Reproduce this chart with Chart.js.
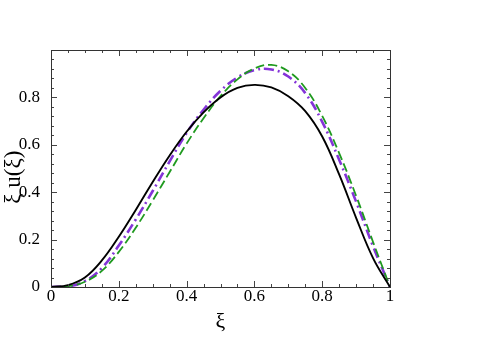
<!DOCTYPE html>
<html>
<head>
<meta charset="utf-8">
<script src="https://cdn.jsdelivr.net/npm/chart.js@4"></script>
<style>
  html, body { margin: 0; padding: 0; background: #fff; }
  #plot { display: block; }
</style>
</head>
<body>
<canvas id="plot" width="480" height="339"></canvas>
<script>
// values
const xi = [0, 0.05, 0.1, 0.15, 0.2, 0.25, 0.3, 0.35, 0.4, 0.45, 0.5, 0.55, 0.6, 0.65, 0.7, 0.75, 0.8, 0.85, 0.9, 0.95, 1];
const solidY   = [0, 0.008, 0.040, 0.112, 0.212, 0.325, 0.443, 0.555, 0.655, 0.737, 0.800, 0.840, 0.853, 0.842, 0.805, 0.742, 0.635, 0.475, 0.292, 0.122, 0];
const dashedY  = [0, 0.003, 0.022, 0.068, 0.148, 0.250, 0.365, 0.485, 0.605, 0.712, 0.805, 0.876, 0.922, 0.937, 0.910, 0.840, 0.722, 0.565, 0.385, 0.190, 0];
const dotdashY = [0, 0.002, 0.025, 0.080, 0.175, 0.285, 0.405, 0.530, 0.650, 0.748, 0.828, 0.884, 0.915, 0.918, 0.888, 0.818, 0.697, 0.537, 0.360, 0.172, 0];
const xTicks = [0, 0.2, 0.4, 0.6, 0.8, 1];
const yTicks = [0, 0.2, 0.4, 0.6, 0.8];

const pts = ys => xi.map((x, i) => ({ x: x, y: ys[i] }));
const serif = '"Liberation Serif", "DejaVu Serif", serif';

function fmt(v) {
    const r = Math.round(v * 10) / 10;
    return r === 0 ? '0' : r === 1 ? '1' : r.toFixed(1);
}

// inward ticks on all four sides + frame
const frameTicks = {
    id: 'frameTicks',
    afterDraw(chart) {
        const { ctx, chartArea: a, scales } = chart;
        const sx = scales.x, sy = scales.y;
        ctx.save();
        ctx.strokeStyle = '#444';
        ctx.lineWidth = 1;
        ctx.beginPath();
        for (let i = 0; i <= 20; i++) {
            const px = Math.round(sx.getPixelForValue(i * 0.05)) + 0.5;
            const len = i % 4 === 0 ? 6 : 3;
            ctx.moveTo(px, a.bottom); ctx.lineTo(px, a.bottom - len);
            ctx.moveTo(px, a.top); ctx.lineTo(px, a.top + len);
        }
        for (let i = 0; i <= 25; i++) {
            const py = Math.round(sy.getPixelForValue(i * 0.04)) + 0.5;
            const len = i % 5 === 0 ? 6 : 3;
            ctx.moveTo(a.left, py); ctx.lineTo(a.left + len, py);
            ctx.moveTo(a.right, py); ctx.lineTo(a.right - len, py);
        }
        ctx.stroke();
        ctx.strokeStyle = '#333';
        ctx.strokeRect(Math.round(a.left) + 0.5, Math.round(a.top) + 0.5,
                       Math.round(a.right - a.left), Math.round(a.bottom - a.top));
        ctx.restore();
    }
};

new Chart(document.getElementById('plot'), {
    type: 'line',
    data: {
        datasets: [
            { data: pts(solidY), borderColor: '#000', borderWidth: 1.9 },
            { data: pts(dashedY), borderColor: '#1f9a1f', borderWidth: 1.8, borderDash: [9, 4] },
            { data: pts(dotdashY), borderColor: '#8434d8', borderWidth: 2.6, borderDash: [10, 4, 2, 4] }
        ]
    },
    options: {
        responsive: false,
        animation: false,
        events: [],
        layout: { padding: { top: 50, right: 90, left: 0, bottom: 0 } },
        elements: {
            point: { radius: 0 },
            line: { tension: 0.4, fill: false }
        },
        plugins: { legend: { display: false }, tooltip: { enabled: false } },
        scales: {
            x: {
                type: 'linear', min: 0, max: 1,
                grid: { display: false },
                border: { display: false },
                afterBuildTicks: s => { s.ticks = xTicks.map(v => ({ value: v })); },
                afterFit: s => { s.height = 52; },
                ticks: { color: '#000', padding: -9, maxRotation: 0, font: { family: serif, size: 17 }, callback: v => fmt(v) },
                title: { display: true, text: 'ξ', color: '#000', padding: { top: 0, bottom: 4 }, font: { family: serif, size: 22 } }
            },
            y: {
                type: 'linear', min: 0, max: 1,
                grid: { display: false },
                border: { display: false },
                afterBuildTicks: s => { s.ticks = yTicks.map(v => ({ value: v })); },
                afterFit: s => { s.width = 51; },
                ticks: { color: '#000', padding: 3, font: { family: serif, size: 17 }, callback: v => fmt(v) },
                title: { display: true, text: 'ξ u(ξ)   ', color: '#000', padding: { top: 0, bottom: 0 }, font: { family: serif, size: 23 } }
            }
        }
    },
    plugins: [frameTicks]
});
</script>
</body>
</html>
